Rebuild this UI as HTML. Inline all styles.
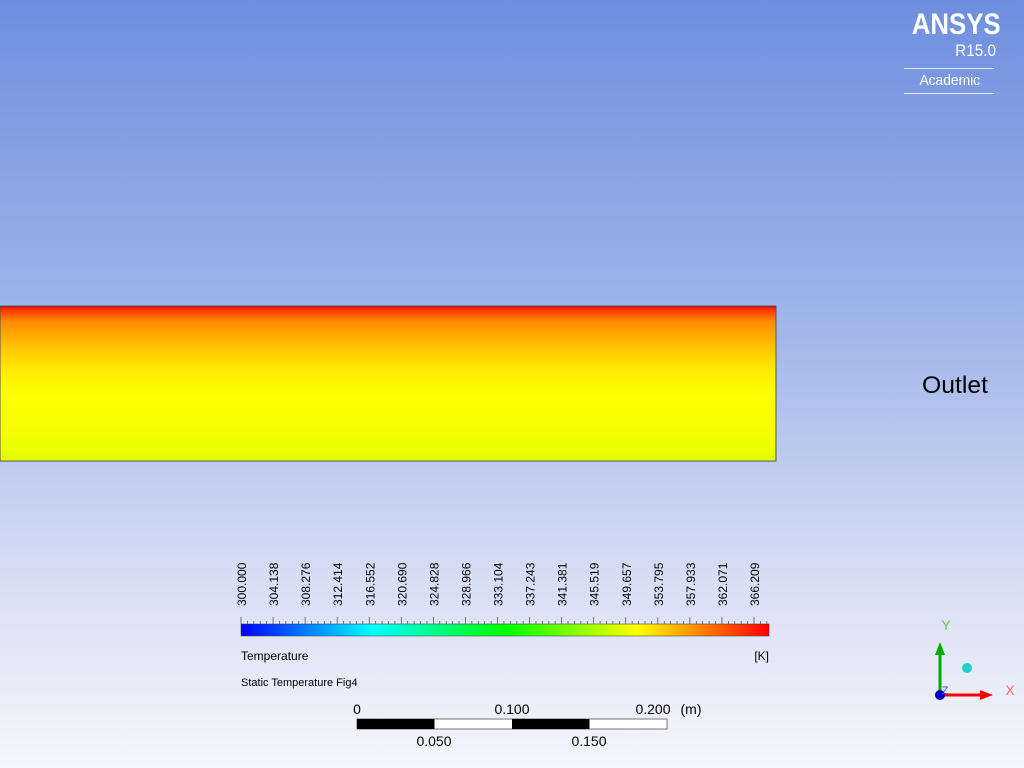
<!DOCTYPE html>
<html><head><meta charset="utf-8"><style>
html,body{margin:0;padding:0;}
body{width:1024px;height:768px;overflow:hidden;background:linear-gradient(to bottom,#6e8fdf 0%,#a5b8ea 45%,#d6def4 75%,#f6f7fc 100%);font-family:"Liberation Sans",sans-serif;position:relative;}
</style></head><body>
<div style="position:absolute;left:898px;top:9px;width:98px;color:#fff;text-align:right;">
 <div style="font-size:30px;font-weight:bold;line-height:32px;transform:scaleX(0.86);transform-origin:right;">ANSYS</div>
 <div style="font-size:17px;line-height:20px;transform:scaleX(0.9);transform-origin:right;">R15.0</div>
 <div style="height:1px;background:rgba(255,255,255,.8);margin:7px 2px 3px 6px;"></div>
 <div style="font-size:15px;text-align:center;padding-left:6px;line-height:18px;transform:scaleX(0.92);">Academic</div>
 <div style="height:1px;background:rgba(255,255,255,.8);margin:3px 2px 0 6px;"></div>
</div>
<div style="position:absolute;left:922px;top:372px;font-size:24px;color:#000;transform:scaleX(1.03);transform-origin:left;">Outlet</div>
<svg width="1024" height="768" style="position:absolute;left:0;top:0">
<defs>
<linearGradient id="dom" x1="0" y1="0" x2="0" y2="1">
<stop offset="0" stop-color="#d00000"/><stop offset="0.02" stop-color="#ff3000"/><stop offset="0.1" stop-color="#ff8a00"/><stop offset="0.25" stop-color="#ffc000"/><stop offset="0.42" stop-color="#ffec00"/><stop offset="0.58" stop-color="#ffff00"/><stop offset="0.8" stop-color="#f6ff00"/><stop offset="1" stop-color="#e4ff00"/>
</linearGradient>
<linearGradient id="cb" x1="0" y1="0" x2="1" y2="0">
<stop offset="0" stop-color="#0000ff"/><stop offset="0.25" stop-color="#00ffff"/><stop offset="0.5" stop-color="#00ff00"/><stop offset="0.75" stop-color="#ffff00"/><stop offset="1" stop-color="#ff0000"/>
</linearGradient>
</defs>
<rect x="0" y="306" width="776" height="155" fill="url(#dom)" stroke="#555" stroke-width="1"/>
<rect x="241" y="624" width="528" height="12" fill="url(#cb)" stroke="#333" stroke-width="0.5"/>
<g id="ticks"></g>
<g id="labels" font-size="12" fill="#000"></g>
<text x="241" y="660" font-size="12">Temperature</text>
<text x="769" y="660" font-size="12" text-anchor="end">[K]</text>
<text x="241" y="686" font-size="11">Static Temperature Fig4</text>
<g>
<rect x="357" y="719" width="310" height="10" fill="#fff" stroke="#555" stroke-width="0.8"/>
<rect x="357" y="719" width="77.5" height="10" fill="#000"/>
<rect x="512" y="719" width="77.5" height="10" fill="#000"/>
<text x="357" y="714" font-size="14" text-anchor="middle">0</text>
<text x="512" y="714" font-size="14" text-anchor="middle">0.100</text>
<text x="653" y="714" font-size="14" text-anchor="middle">0.200</text>
<text x="691" y="714" font-size="14" text-anchor="middle">(m)</text>
<text x="434" y="746" font-size="14" text-anchor="middle">0.050</text>
<text x="589" y="746" font-size="14" text-anchor="middle">0.150</text>
</g>
<g>
<line x1="940" y1="695" x2="940" y2="652" stroke="#0a0" stroke-width="3"/>
<polygon points="935,655 945,655 940,642" fill="#0a0"/>
<line x1="940" y1="695" x2="982" y2="695" stroke="#f00" stroke-width="3"/>
<polygon points="980,690 980,700 993,695" fill="#f00"/>
<circle cx="940" cy="695" r="5" fill="#0000c0"/>
<circle cx="967" cy="668" r="5" fill="#20d0d0"/>
<text x="946" y="630" font-size="14" fill="#5c5" text-anchor="middle">Y</text>
<text x="1010" y="695" font-size="14" fill="#f66" text-anchor="middle">X</text>
<text x="945" y="694" font-size="11" fill="#44f" text-anchor="middle">Z</text>
</g>
</svg>
<script>
const tickLabels=["300.000","304.138","308.276","312.414","316.552","320.690","324.828","328.966","333.104","337.243","341.381","345.519","349.657","353.795","357.933","362.071","366.209"];
const ns="http://www.w3.org/2000/svg";
const lg=document.getElementById('labels'),tg=document.getElementById('ticks');
function lx(i){return 242+i*(513/(tickLabels.length-1));}
tickLabels.forEach((t,i)=>{
 const x=lx(i);
 const e=document.createElementNS(ns,'text');
 
 
 e.setAttribute('transform','translate('+(x+4)+',606) rotate(-90)');
 e.textContent=t;lg.appendChild(e);
});
for(let i=0;i<=85;i++){
 const x=241+i*(513/80);
 if(x>769)break;
 const l=document.createElementNS(ns,'line');
 
 
 l.setAttribute('x1',x);l.setAttribute('x2',x);
 l.setAttribute('y1',i%5==0?617:621);l.setAttribute('y2',624);
 l.setAttribute('stroke','#444');l.setAttribute('stroke-width','0.7');
 tg.appendChild(l);
}
</script>
</body></html>
